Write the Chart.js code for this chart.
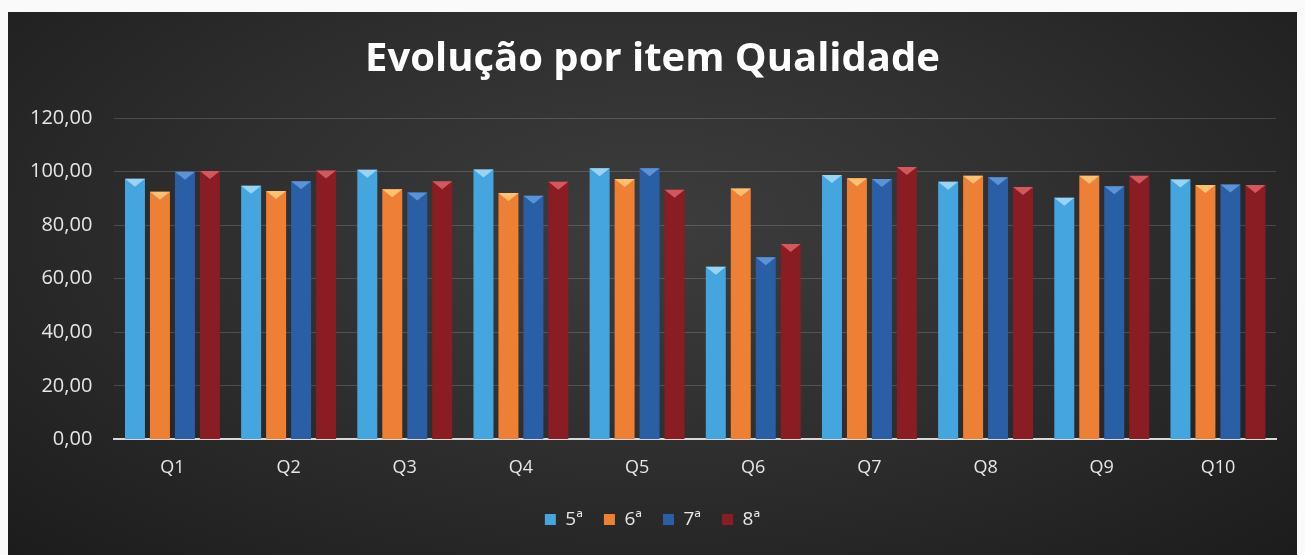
<!DOCTYPE html>
<html>
<head>
<meta charset="utf-8">
<script src="https://cdn.jsdelivr.net/npm/chart.js@4/dist/chart.umd.min.js"></script>
<style>
  html, body { margin: 0; padding: 0; background: #fafafa; }
  #frame {
    position: absolute; left: 8px; top: 12px; width: 1289px; height: 543px;
    background: radial-gradient(ellipse at 50% 40%, #3d3d3d 0%, #2e2e2e 50%, #1c1c1c 100%);
  }
</style>
</head>
<body>
<div id="frame"><canvas id="chart" width="1289" height="543"></canvas></div>
<script>
// categories and series
const questions = ['Q1', 'Q2', 'Q3', 'Q4', 'Q5', 'Q6', 'Q7', 'Q8', 'Q9', 'Q10'];
const serie5 = [97.3, 94.7, 100.7, 100.8, 101.2, 64.5, 98.7, 96.2, 90.2, 97.0];
const serie6 = [92.5, 92.7, 93.4, 92.0, 97.2, 93.7, 97.5, 98.4, 98.4, 95.0];
const serie7 = [99.9, 96.4, 92.2, 91.0, 101.2, 68.0, 97.2, 97.9, 94.5, 95.2];
const serie8 = [100.2, 100.4, 96.4, 96.2, 93.2, 73.0, 101.7, 94.2, 98.4, 95.0];
const yTicks = [0, 20, 40, 60, 80, 100, 120];

const seriesColors = ['#45a6df', '#ee8035', '#2a5fa6', '#8a1d24'];
const topColors = ['#9ad4f4', '#ffc070', '#5b93d8', '#d2585e'];

// light chevron at top of each bar (3D look)
const bevelPlugin = {
  id: 'bevel',
  afterDatasetsDraw(chart) {
    const ctx = chart.ctx;
    chart.data.datasets.forEach((ds, i) => {
      chart.getDatasetMeta(i).data.forEach(bar => {
        const half = bar.width / 2;
        ctx.save();
        ctx.fillStyle = topColors[i];
        ctx.beginPath();
        ctx.moveTo(bar.x - half, bar.y);
        ctx.lineTo(bar.x + half, bar.y);
        ctx.lineTo(bar.x, bar.y + 8);
        ctx.closePath();
        ctx.fill();
        ctx.restore();
      });
    });
  }
};

new Chart(document.getElementById('chart'), {
  type: 'bar',
  data: {
    labels: questions,
    datasets: [
      { label: '5ª', data: serie5, backgroundColor: seriesColors[0] },
      { label: '6ª', data: serie6, backgroundColor: seriesColors[1] },
      { label: '7ª', data: serie7, backgroundColor: seriesColors[2] },
      { label: '8ª', data: serie8, backgroundColor: seriesColors[3] }
    ]
  },
  options: {
    responsive: false,
    animation: false,
    categoryPercentage: 0.86,
    barPercentage: 0.8,
    layout: { padding: { left: 0, right: 0, top: 24, bottom: 16 } },
    plugins: {
      title: {
        display: true,
        text: 'Evolução por item Qualidade',
        color: '#ffffff',
        font: { family: 'Open Sans', size: 40, weight: 'bold' },
        padding: { top: 0, bottom: 34 }
      },
      legend: {
        position: 'bottom',
        labels: {
          color: '#e6e6e6',
          boxWidth: 11,
          boxHeight: 11,
          padding: 21,
          font: { family: 'Open Sans', size: 19 }
        }
      },
      tooltip: { enabled: false }
    },
    scales: {
      x: {
        grid: { display: false },
        border: { display: true, color: '#d8d8d8', width: 2 },
        ticks: { color: '#e6e6e6', padding: 10, font: { family: 'Open Sans', size: 18 } }
      },
      y: {
        min: 0,
        max: 120,
        afterBuildTicks: axis => { axis.ticks = yTicks.map(v => ({ value: v })); },
        grid: { color: 'rgba(255,255,255,0.16)', drawTicks: false },
        border: { display: false },
        ticks: {
          color: '#e6e6e6',
          padding: 22,
          font: { family: 'Open Sans', size: 20 },
          callback: v => v.toFixed(2).replace('.', ',')
        }
      },
      // empty right margin so the title stays centred on the whole frame
      yRight: {
        position: 'right',
        grid: { display: false },
        border: { display: false },
        ticks: { display: false },
        afterFit: axis => { axis.width = 21; }
      }
    }
  },
  plugins: [bevelPlugin]
});
</script>
</body>
</html>
